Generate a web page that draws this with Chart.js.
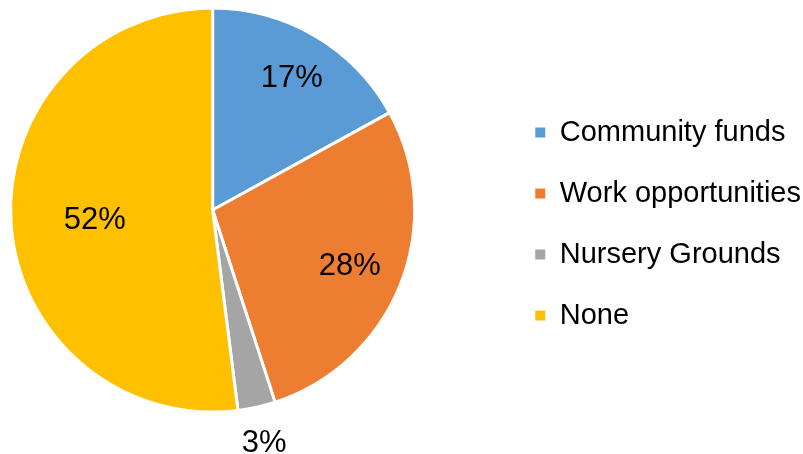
<!DOCTYPE html>
<html>
<head>
<meta charset="utf-8">
<script src="https://cdn.jsdelivr.net/npm/chart.js@4"></script>
<style>
    html, body { margin: 0; padding: 0; background: #fff; overflow: hidden; }
    body { width: 803px; height: 454px; }
    /* canvas is wider than the window so the pie sits further left, like the original */
    #wrap { width: 889px; height: 454px; position: relative; margin-left: -78px; }
</style>
</head>
<body>
<div id="wrap"><canvas id="pie-chart"></canvas></div>
<script>
const categories = ['Community funds', 'Work opportunities', 'Nursery Grounds', 'None'];
const shares = [17, 28, 3, 52];
const sliceColors = ['#5B9BD5', '#ED7D31', '#A5A5A5', '#FFC000'];

// label distance from centre, as a share of the radius (Excel "best fit" look)
const labelRadius = [0.77, 0.73, 1.17, 0.585];

const sliceLabels = {
    id: 'sliceLabels',
    afterDatasetsDraw(chart) {
        const ctx = chart.ctx;
        const meta = chart.getDatasetMeta(0);
        const size = 31;
        ctx.save();
        ctx.font = size + 'px "Liberation Sans", Arial, sans-serif';
        ctx.fillStyle = '#000';
        ctx.textAlign = 'center';
        ctx.textBaseline = 'alphabetic';
        meta.data.forEach((arc, i) => {
            const { x, y, startAngle, endAngle, outerRadius } = arc.getProps(['x', 'y', 'startAngle', 'endAngle', 'outerRadius'], true);
            const mid = (startAngle + endAngle) / 2;
            const r = outerRadius * labelRadius[i];
            const lx = x + Math.cos(mid) * r;
            const ly = y + Math.sin(mid) * r;
            ctx.fillText(shares[i] + '%', lx, ly + size * 0.358);
        });
        ctx.restore();
    }
};

const ctx = document.getElementById('pie-chart').getContext('2d');
const pieChart = new Chart(ctx, {
    type: 'pie',
    data: {
        labels: categories,
        datasets: [{
            data: shares,
            backgroundColor: sliceColors,
            borderColor: '#fff',
            borderWidth: 3,
        }]
    },
    options: {
        responsive: true,
        maintainAspectRatio: false,
        animation: false,
        layout: {
            padding: { left: 0, right: 0, top: 6.5, bottom: 40.5 }
        },
        plugins: {
            tooltip: { enabled: false },
            legend: {
                position: 'right',
                title: {
                    display: true,
                    text: '',
                    font: { size: 10, lineHeight: 1.2 },
                    padding: 8
                },
                labels: {
                    boxWidth: 10,
                    boxHeight: 10,
                    padding: 32,
                    color: '#000',
                    font: { family: '"Liberation Sans", Arial, sans-serif', size: 29 },
                    generateLabels: chart => Chart.overrides.pie.plugins.legend.labels.generateLabels(chart)
                        .map(item => ({ ...item, lineWidth: 0 }))
                }
            }
        }
    },
    plugins: [sliceLabels]
});
</script>
</body>
</html>
